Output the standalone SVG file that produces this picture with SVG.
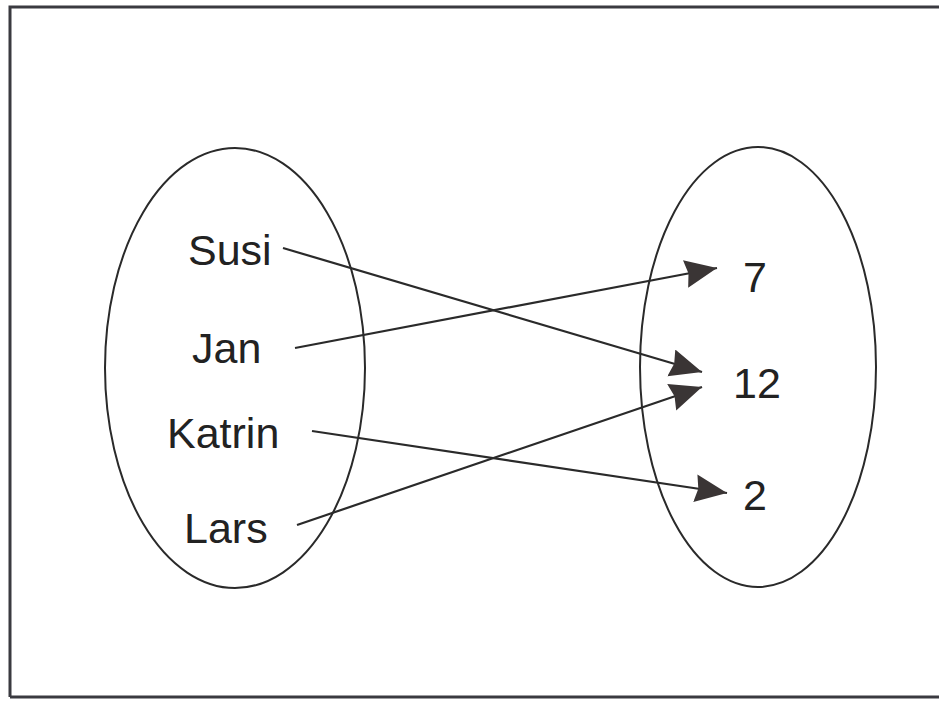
<svg xmlns="http://www.w3.org/2000/svg" width="939" height="701" viewBox="0 0 939 701">
<style>
.lbl{font-family:"Liberation Sans","DejaVu Sans",sans-serif;font-size:43px;fill:#222;}
.ell{fill:none;stroke:#2a2a2a;stroke-width:2;}
.con{stroke:#2a2a2a;stroke-width:2.2;fill:none;marker-end:url(#ah);}
</style>
<defs>
<marker id="ah" markerUnits="userSpaceOnUse" markerWidth="34" markerHeight="30" refX="32" refY="14" orient="auto">
<path d="M0,0 L32,14 L0,28 L3,14 Z" fill="#3a3535"/>
</marker>
</defs>
<rect x="0" y="0" width="939" height="701" fill="#fff"/>
<path d="M10,697 L10,7 L945,7 M10,697 L945,697" fill="none" stroke="#3a3a40" stroke-width="3"/>
<g id="domain">
<ellipse class="ell" cx="235" cy="368" rx="130" ry="220"/>
</g>
<g id="codomain">
<ellipse class="ell" cx="758" cy="367" rx="118" ry="220"/>
</g>
<g id="susi"><text class="lbl" x="188" y="265">Susi</text></g>
<g id="jan"><text class="lbl" x="192" y="363">Jan</text></g>
<g id="katrin"><text class="lbl" x="167" y="448">Katrin</text></g>
<g id="lars"><text class="lbl" x="184" y="543">Lars</text></g>
<g id="n7"><text class="lbl" x="743" y="292">7</text></g>
<g id="n12"><text class="lbl" x="733" y="398">12</text></g>
<g id="n2"><text class="lbl" x="743" y="510">2</text></g>
<g id="connectors">
<line class="con" x1="283" y1="248" x2="702" y2="372"/>
<line class="con" x1="295" y1="348" x2="717" y2="268"/>
<line class="con" x1="312" y1="431" x2="727" y2="493"/>
<line class="con" x1="297" y1="525" x2="702" y2="387"/>
</g>
</svg>
